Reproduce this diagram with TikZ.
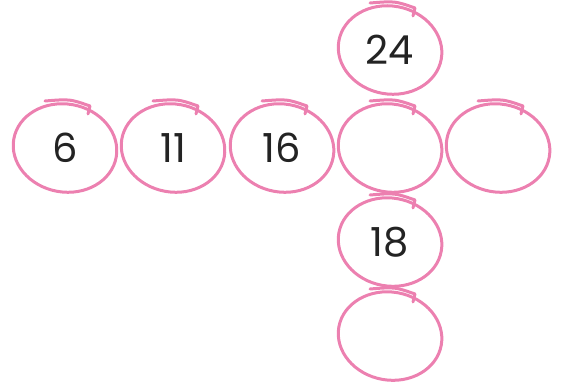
\documentclass[tikz,border=0pt]{standalone}
\usepackage{fontspec}
\setmainfont{Poppins}
\definecolor{pinkline}{RGB}{236,128,176}
\definecolor{numtext}{RGB}{35,35,35}
\tikzset{
  num/.style={font=\fontsize{40}{46}\selectfont, text=numtext, inner sep=0pt},
  loop/.style={draw=pinkline, line width=3pt, line cap=round, line join=round}
}
\newcommand{\circled}[1]{%
  \draw[loop, rotate around={-10:(#1)}] (#1) ellipse [x radius=52, y radius=44];
  \draw[loop] ([shift={(-20,-47)}]#1.center) .. controls ([shift={(5,-49)}]#1.center) .. ([shift={(25,-42)}]#1.center) -- ([shift={(23,-34)}]#1.center);
}
\begin{document}
\begin{tikzpicture}[x=1pt,y=-1pt]
\useasboundingbox (0,0) rectangle (561,390);
\node[num] (a) at (65,148) {6};
\node[num] (b) at (173,148) {11};
\node[num] (c) at (282,148) {16};
\node[num] (d) at (390,148) {};
\node[num] (e) at (498,148) {};
\node[num] (t) at (390,50) {24};
\node[num] (f) at (390,242) {18};
\node[num] (g) at (390,336) {};
\foreach \n in {a,b,c,d,e,t,f,g} {\circled{\n}}
\end{tikzpicture}
\end{document}
